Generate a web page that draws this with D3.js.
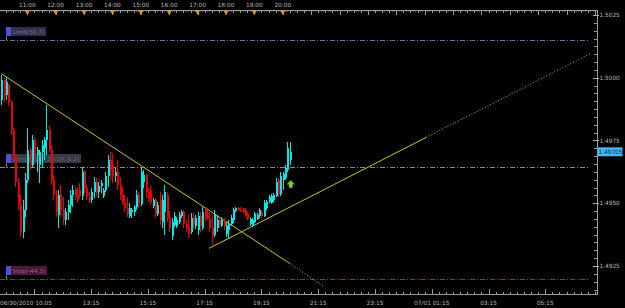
<!DOCTYPE html>
<html>
<head>
<meta charset="utf-8">
<script src="https://cdnjs.cloudflare.com/ajax/libs/d3/7.8.5/d3.min.js"></script>
<style>
  html, body { margin: 0; padding: 0; background: #000; overflow: hidden; }
  svg { display: block; }
  text { font-family: "DejaVu Sans", sans-serif; }
</style>
</head>
<body>
<div id="chart"></div>
<script>
// 5 minute bars, first bar 06/30/2010 10:05
var firstBar = new Date(2010, 5, 30, 10, 5);
var barMinutes = 5;

var opens = [1.49912,1.49992,1.49932,1.49972,1.49904,1.49792,1.49688,1.49584,1.49492,1.49384,
  1.49472,1.49592,1.49712,1.49652,1.49752,1.49692,1.49652,1.49704,1.49720,1.49752,
  1.49792,1.49712,1.49592,1.49532,1.49452,1.49532,1.49472,1.49432,1.49464,1.49492,
  1.49532,1.49552,1.49528,1.49552,1.49528,1.49624,1.49560,1.49524,1.49512,1.49544,
  1.49584,1.49544,1.49568,1.49528,1.49552,1.49608,1.49672,1.49652,1.49608,1.49624,
  1.49572,1.49532,1.49504,1.49480,1.49448,1.49464,1.49464,1.49484,1.49532,1.49496,
  1.49584,1.49612,1.49544,1.49552,1.49488,1.49512,1.49456,1.49512,1.49424,1.49464,
  1.49532,1.49440,1.49368,1.49412,1.49408,1.49424,1.49448,1.49464,1.49416,1.49408,
  1.49384,1.49440,1.49408,1.49392,1.49448,1.49400,1.49472,1.49448,1.49440,1.49400,
  1.49372,1.49400,1.49432,1.49408,1.49432,1.49376,1.49392,1.49416,1.49432,1.49468,
  1.49480,1.49472,1.49476,1.49472,1.49456,1.49416,1.49408,1.49424,1.49436,1.49448,
  1.49464,1.49448,1.49480,1.49504,1.49500,1.49512,1.49528,1.49592,1.49536,1.49592,
  1.49600,1.49632,1.49672];
var highs = [1.50012,1.50000,1.50004,1.49976,1.49912,1.49800,1.49692,1.49600,1.49532,1.49512,
  1.49620,1.49800,1.49724,1.49772,1.49764,1.49724,1.49712,1.49752,1.49764,1.49892,
  1.49812,1.49732,1.49612,1.49552,1.49552,1.49572,1.49524,1.49480,1.49512,1.49552,
  1.49572,1.49564,1.49560,1.49580,1.49644,1.49632,1.49572,1.49544,1.49560,1.49604,
  1.49600,1.49584,1.49592,1.49560,1.49624,1.49692,1.49704,1.49700,1.49644,1.49672,
  1.49604,1.49564,1.49532,1.49524,1.49500,1.49480,1.49492,1.49552,1.49544,1.49644,
  1.49632,1.49616,1.49560,1.49572,1.49520,1.49520,1.49504,1.49544,1.49532,1.49572,
  1.49544,1.49464,1.49440,1.49464,1.49444,1.49464,1.49472,1.49472,1.49432,1.49452,
  1.49460,1.49460,1.49452,1.49464,1.49464,1.49484,1.49480,1.49472,1.49464,1.49452,
  1.49472,1.49452,1.49440,1.49444,1.49440,1.49424,1.49432,1.49452,1.49480,1.49484,
  1.49484,1.49484,1.49480,1.49480,1.49464,1.49444,1.49440,1.49464,1.49460,1.49480,
  1.49472,1.49512,1.49512,1.49532,1.49536,1.49540,1.49600,1.49600,1.49624,1.49624,
  1.49652,1.49744,1.49744];
var lows = [1.49892,1.49904,1.49912,1.49888,1.49772,1.49672,1.49564,1.49472,1.49364,1.49360,
  1.49444,1.49580,1.49632,1.49640,1.49664,1.49624,1.49580,1.49644,1.49672,1.49692,
  1.49700,1.49572,1.49512,1.49444,1.49400,1.49444,1.49412,1.49412,1.49432,1.49460,
  1.49484,1.49512,1.49500,1.49520,1.49512,1.49540,1.49512,1.49500,1.49500,1.49520,
  1.49524,1.49520,1.49540,1.49520,1.49544,1.49564,1.49592,1.49580,1.49584,1.49552,
  1.49512,1.49492,1.49464,1.49444,1.49440,1.49440,1.49448,1.49472,1.49480,1.49488,
  1.49560,1.49520,1.49504,1.49492,1.49480,1.49440,1.49448,1.49412,1.49400,1.49372,
  1.49424,1.49384,1.49352,1.49404,1.49400,1.49416,1.49440,1.49400,1.49384,1.49360,
  1.49376,1.49400,1.49396,1.49372,1.49384,1.49392,1.49424,1.49432,1.49384,1.49332,
  1.49364,1.49384,1.49400,1.49404,1.49392,1.49364,1.49360,1.49408,1.49420,1.49464,
  1.49468,1.49464,1.49460,1.49444,1.49432,1.49408,1.49404,1.49420,1.49432,1.49440,
  1.49440,1.49444,1.49472,1.49500,1.49496,1.49504,1.49524,1.49524,1.49528,1.49552,
  1.49592,1.49624,1.49652];
var closes = [1.49992,1.49932,1.49984,1.49904,1.49792,1.49688,1.49584,1.49492,1.49384,1.49472,
  1.49592,1.49712,1.49652,1.49752,1.49692,1.49712,1.49704,1.49732,1.49752,1.49792,
  1.49712,1.49592,1.49532,1.49464,1.49532,1.49472,1.49432,1.49464,1.49492,1.49532,
  1.49552,1.49528,1.49512,1.49528,1.49624,1.49560,1.49524,1.49512,1.49544,1.49584,
  1.49544,1.49568,1.49580,1.49552,1.49608,1.49672,1.49632,1.49608,1.49624,1.49572,
  1.49532,1.49504,1.49480,1.49456,1.49480,1.49472,1.49484,1.49532,1.49496,1.49624,
  1.49612,1.49544,1.49520,1.49504,1.49512,1.49456,1.49492,1.49432,1.49512,1.49544,
  1.49440,1.49400,1.49424,1.49448,1.49432,1.49452,1.49464,1.49416,1.49400,1.49376,
  1.49440,1.49412,1.49440,1.49448,1.49408,1.49464,1.49440,1.49440,1.49400,1.49372,
  1.49452,1.49432,1.49412,1.49432,1.49408,1.49408,1.49416,1.49440,1.49472,1.49480,
  1.49472,1.49468,1.49464,1.49452,1.49436,1.49436,1.49432,1.49456,1.49452,1.49472,
  1.49448,1.49500,1.49504,1.49524,1.49528,1.49532,1.49584,1.49536,1.49608,1.49616,
  1.49640,1.49720,1.49705];

// open position and its orders
var entryTime = new Date(2010, 5, 30, 20, 18);
var entryPrice = 1.49643;
var profitPips = 6.2;
var limitPips = 50.7;
var stopPips = -44.3;
var lastPrice = 1.49705;

// trend lines: solid part, then dotted extension
var downLine = [
  {t: new Date(2010, 5, 30, 10, 5), p: 1.50016},
  {t: new Date(2010, 5, 30, 20, 15), p: 1.49260},
  {t: new Date(2010, 5, 30, 21, 25), p: 1.49170}];
var upLine = [
  {t: new Date(2010, 5, 30, 17, 24), p: 1.49320},
  {t: new Date(2010, 6, 1, 1, 3), p: 1.49762},
  {t: new Date(2010, 6, 1, 6, 50), p: 1.50096}];

var priceTicks = [1.4925, 1.4950, 1.4975, 1.5000, 1.5025];
var topLabels = ["11:00","12:00","13:00","14:00","15:00","16:00","17:00","18:00","19:00","20:00"];
var bottomLabels = ["06/30/2010 10:05","13:15","15:15","17:15","19:15","21:15","23:15","07/01 01:15","03:15","05:15"];

var width = 625, height = 308;
var plotRight = 597, topY = 10, bottomY = 294;

var svg = d3.select("#chart").append("svg")
    .attr("width", width)
    .attr("height", height)
    .style("background", "#000");

var x = d3.scaleTime()
    .domain([firstBar, new Date(2010, 6, 1, 7, 5)])
    .range([1.3, 597.3]);
var y = d3.scaleLinear()
    .domain([1.4925, 1.5025])
    .range([266, 15]);

var bars = closes.map(function(c, i) {
  return {t: d3.timeMinute.offset(firstBar, i * barMinutes), o: opens[i], h: highs[i], l: lows[i], c: c};
});

// ---- top time axis
var gTop = svg.append("g").attr("class", "top-axis");
gTop.append("line")
    .attr("x1", 0).attr("x2", plotRight)
    .attr("y1", topY + 0.5).attr("y2", topY + 0.5)
    .attr("stroke", "#9a9a9a");
var fiveMin = d3.timeMinute.every(5).range(firstBar, x.domain()[1]);
gTop.selectAll(".tk")
  .data(fiveMin)
  .enter().append("line")
    .attr("x1", function(d) { return Math.round(x(d)) + 0.5; })
    .attr("x2", function(d) { return Math.round(x(d)) + 0.5; })
    .attr("y1", topY)
    .attr("y2", function(d) {
      if (d.getMinutes() == 0) return topY + 5;
      if (d.getMinutes() % 15 == 0) return topY + 3;
      return topY + 1.5;
    })
    .attr("stroke", "#9a9a9a");
var topTimes = topLabels.map(function(s, i) { return new Date(2010, 5, 30, 11 + i, 0); });
gTop.selectAll(".mk")
  .data(topTimes)
  .enter().append("path")
    .attr("d", function(d) {
      var cx = x(d);
      return "M" + (cx - 2.5) + "," + (topY + 0.5) + "L" + (cx + 2.5) + "," + (topY + 0.5) + "L" + cx + "," + (topY + 5) + "Z";
    })
    .attr("fill", "#e0a000");
gTop.selectAll(".lb")
  .data(topTimes)
  .enter().append("text")
    .attr("x", function(d) { return x(d); })
    .attr("y", 7)
    .attr("text-anchor", "middle")
    .attr("font-size", 5.8)
    .attr("fill", "#b8b8b8")
    .text(function(d, i) { return topLabels[i]; });

// ---- bottom time axis
var gBot = svg.append("g").attr("class", "bottom-axis");
gBot.append("line")
    .attr("x1", 0).attr("x2", plotRight)
    .attr("y1", bottomY + 0.5).attr("y2", bottomY + 0.5)
    .attr("stroke", "#9a9a9a");
var quarters = d3.timeMinute.every(15).range(new Date(2010, 5, 30, 10, 15), x.domain()[1]);
gBot.selectAll(".tk")
  .data(quarters)
  .enter().append("line")
    .attr("x1", function(d) { return Math.round(x(d)) + 0.5; })
    .attr("x2", function(d) { return Math.round(x(d)) + 0.5; })
    .attr("y1", function(d) { return (d.getMinutes() == 15 && d.getHours() % 2 == 1) ? bottomY - 5 : bottomY - 2; })
    .attr("y2", bottomY)
    .attr("stroke", "#9a9a9a");
var botTimes = [firstBar];
for (var h = 0; h < 9; h++) botTimes.push(new Date(2010, 5, 30, 13 + h * 2, 15));
gBot.selectAll(".lb")
  .data(botTimes)
  .enter().append("text")
    .attr("x", function(d, i) { return i == 0 ? 0 : x(d); })
    .attr("y", 305)
    .attr("text-anchor", function(d, i) { return i == 0 ? "start" : "middle"; })
    .attr("font-size", 5.8)
    .attr("fill", "#b8b8b8")
    .text(function(d, i) { return bottomLabels[i]; });

// ---- right price axis
var gRight = svg.append("g").attr("class", "price-axis");
gRight.append("line")
    .attr("x1", plotRight + 0.5).attr("x2", plotRight + 0.5)
    .attr("y1", topY).attr("y2", bottomY + 1)
    .attr("stroke", "#9a9a9a");
var minor = d3.range(1.4900, 1.5050, 0.0025 / 8).filter(function(p) { return y(p) > topY + 2 && y(p) < bottomY - 2; });
gRight.selectAll(".mn")
  .data(minor)
  .enter().append("line")
    .attr("x1", plotRight - 3).attr("x2", plotRight)
    .attr("y1", function(d) { return Math.round(y(d)) + 0.5; })
    .attr("y2", function(d) { return Math.round(y(d)) + 0.5; })
    .attr("stroke", "#9a9a9a");
gRight.selectAll(".mj")
  .data(priceTicks)
  .enter().append("line")
    .attr("x1", plotRight - 4).attr("x2", plotRight + 2)
    .attr("y1", function(d) { return Math.round(y(d)) + 0.5; })
    .attr("y2", function(d) { return Math.round(y(d)) + 0.5; })
    .attr("stroke", "#b0b0b0");
gRight.selectAll(".lb")
  .data(priceTicks)
  .enter().append("text")
    .attr("x", plotRight + 2.5)
    .attr("y", function(d) { return y(d) + 2.2; })
    .attr("font-size", 5.8)
    .attr("fill", "#b8b8b8")
    .text(function(d) { return d3.format(".4f")(d); });

// ---- order levels
var levels = [
  {name: "Limit(" + limitPips + ")", p: entryPrice + limitPips / 10000, line: "#6a6aa8", box: "#30304c", txt: "#7a7a9c", w: 40},
  {name: "Long(06/30 20:18, " + profitPips + ")", p: entryPrice, line: "#8a8a8a", box: "#3a3a42", txt: "#62627a", w: 75},
  {name: "Stop(" + stopPips + ")", p: entryPrice + stopPips / 10000, line: "#9a2a55", box: "#4a1838", txt: "#9a5c84", w: 41}
];
var gLev = svg.append("g").attr("class", "levels");
levels.forEach(function(d) {
  var ly = Math.round(y(d.p)) + 0.5;
  gLev.append("line")
      .attr("x1", 0).attr("x2", 590)
      .attr("y1", ly).attr("y2", ly)
      .attr("stroke", d.line)
      .attr("stroke-dasharray", "5,2,1,2");
  gLev.append("line")
      .attr("x1", 6.5).attr("x2", 6.5)
      .attr("y1", ly - 4).attr("y2", ly)
      .attr("stroke", "#8a8a8a");
  gLev.append("rect")
      .attr("x", 6).attr("y", ly - 13.5)
      .attr("width", d.w).attr("height", 9)
      .attr("fill", d.box);
  gLev.append("rect")
      .attr("x", 6).attr("y", ly - 13.5)
      .attr("width", 5).attr("height", 9)
      .attr("fill", "#4f4fdc");
  gLev.append("text")
      .attr("x", 12.5).attr("y", ly - 6.8)
      .attr("font-size", 5.8)
      .attr("fill", d.txt)
      .text(d.name);
});

// ---- trend lines
var line = d3.line()
    .x(function(d) { return x(d.t); })
    .y(function(d) { return y(d.p); });
var gTrend = svg.append("g").attr("class", "trend");
[downLine, upLine].forEach(function(pts) {
  gTrend.append("path")
      .attr("d", line(pts.slice(0, 2)))
      .attr("fill", "none")
      .attr("stroke", "#c8c800")
      .attr("stroke-width", 1);
  gTrend.append("path")
      .attr("d", line(pts.slice(1)))
      .attr("fill", "none")
      .attr("stroke", "#c8c800")
      .attr("stroke-width", 1)
      .attr("stroke-dasharray", "1,2");
});

// ---- candles
var gBars = svg.append("g").attr("class", "candles").attr("shape-rendering", "crispEdges");
var candle = gBars.selectAll(".bar")
  .data(bars)
  .enter().append("g")
    .attr("class", "bar");
candle.append("line")
    .attr("x1", function(d) { return Math.round(x(d.t)) + 0.5; })
    .attr("x2", function(d) { return Math.round(x(d.t)) + 0.5; })
    .attr("y1", function(d) { return y(d.h); })
    .attr("y2", function(d) { return y(d.l); })
    .attr("stroke", function(d) { return d.c >= d.o ? "#00eaea" : "#f00000"; });
candle.append("rect")
    .attr("x", function(d) { return Math.round(x(d.t)); })
    .attr("y", function(d) { return y(Math.max(d.o, d.c)); })
    .attr("width", 2)
    .attr("height", function(d) { return Math.max(1, Math.abs(y(d.o) - y(d.c))); })
    .attr("fill", function(d) { return d.c >= d.o ? "#00eaea" : "#f00000"; });

// ---- buy marker under the entry
var ax = x(entryTime) - 0.5, ay = y(entryPrice) + 13;
svg.append("path")
    .attr("d", "M" + ax + "," + ay + "l4,4h-2.2v3.5h-3.6v-3.5h-2.2z")
    .attr("fill", "#7ccc3c")
    .attr("stroke", "#4a8a20")
    .attr("stroke-width", 0.5);

// ---- last price tag
var py = y(lastPrice);
svg.append("rect")
    .attr("x", plotRight + 0.5).attr("y", py - 4.5)
    .attr("width", 25).attr("height", 9)
    .attr("fill", "#49b4f2");
svg.append("text")
    .attr("x", plotRight + 1.5).attr("y", py + 2.2)
    .attr("font-size", 5.8)
    .attr("fill", "#0a2a4a")
    .text(d3.format(".5f")(lastPrice));
</script>
</body>
</html>
